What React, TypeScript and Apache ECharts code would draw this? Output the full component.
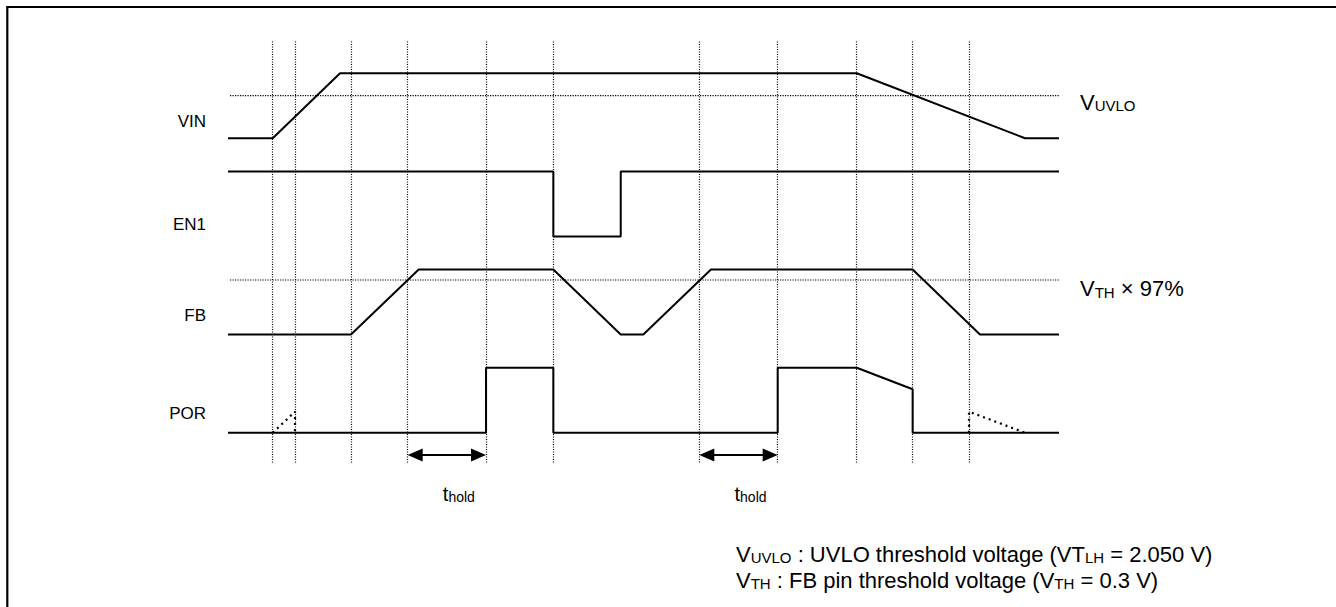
import React, { useEffect, useRef } from "react";
import * as echarts from "echarts";

// ---- time axis (arbitrary units 0..100) ----
const VIN_T = [0, 5.38, 13.48, 75.66, 95.91, 100];
const VIN_L = [0, 0, 1, 1, 0, 0];

const EN1_T = [0, 39.15, 39.15, 47.26, 47.26, 100];
const EN1_L = [1, 1, 0, 0, 1, 1];

const FB_T = [0, 14.8, 22.95, 39.15, 47.26, 49.98, 58.12, 82.39, 90.49, 100];
const FB_L = [0, 0, 1, 1, 0, 0, 1, 1, 0, 0];

const POR_T = [0, 31.05, 31.05, 39.15, 39.15, 66.15, 66.15, 75.66, 82.39, 82.39, 100];
const POR_L = [0, 0, 1, 1, 0, 0, 1, 1, 0.668, 0, 0];

// undefined (dotted) POR portions
const POR_DOT1_T = [5.38, 8.06, 8.06];
const POR_DOT1_L = [0, 0.323, 0];
const POR_DOT2_T = [89.17, 89.17, 95.91];
const POR_DOT2_L = [0, 0.323, 0];

// vertical level offsets of each row
const ROW_BASE = { VIN: 4.53, EN1: 3.02, FB: 1.51, POR: 0 };

// thresholds (relative to row)
const UVLO_LEVEL = 0.655;
const VTH97_LEVEL = 0.839;
const THRESH_T = [0.24, 100];

// vertical guide times
const GUIDE_T = [5.38, 8.06, 14.8, 21.62, 31.05, 39.15, 56.72, 66.15, 75.66, 82.39, 89.17];
const GUIDE_Y = [-0.46, 6.04];

// t_hold arrows
const HOLD = [
  [21.62, 31.05],
  [56.72, 66.15],
];
const HOLD_Y = -0.343;

const SIGNAL_NAMES = ["VIN", "EN1", "FB", "POR"];

const FONT = "'Liberation Sans', Arial, Helvetica, sans-serif";

function pts(ts: number[], ls: number[], base: number) {
  return ts.map((t, i) => [t, base + ls[i]]);
}

export default function App() {
  const ref = useRef<HTMLDivElement>(null);
  useEffect(() => {
    if (!ref.current) return;
    const chart = echarts.init(ref.current, null, { renderer: "svg" });
    const solid = { color: "#000", width: 2 };
    const dotted = { color: "#000", width: 1.2, type: [1.2, 1.3] };
    const lineBase = {
      type: "line",
      symbol: "none",
      silent: true,
      xAxisIndex: 0,
      yAxisIndex: 0,
      clip: false,
    };
    const pxPerT = (1059 - 228) / 100;
    const headLen = 15;
    const headOff = headLen / 2 / pxPerT;

    const labelY: Record<string, number> = { VIN: 121.5, EN1: 224, FB: 315.5, POR: 413.5 };

    const rich = (big: number, small: number) => ({
      a: { fontSize: big, fontFamily: FONT, verticalAlign: "bottom" },
      b: { fontSize: small, fontFamily: FONT, verticalAlign: "bottom" },
    });

    chart.setOption({
      animation: false,
      backgroundColor: "#fff",
      grid: { left: 228, right: 277, top: 36.2, bottom: 141.8, containLabel: false },
      xAxis: { type: "value", min: 0, max: 100, show: false },
      yAxis: { type: "value", min: -0.5, max: 6.1, show: false },
      series: [
        {
          ...lineBase,
          name: "guides",
          data: [],
          markLine: {
            silent: true,
            symbol: "none",
            label: { show: false },
            lineStyle: dotted,
            data: GUIDE_T.map((t) => [
              { coord: [t, GUIDE_Y[0]] },
              { coord: [t, GUIDE_Y[1]] },
            ]),
          },
        },
        {
          ...lineBase,
          name: "hold",
          data: [],
          markLine: {
            silent: true,
            symbol: ["triangle", "triangle"],
            symbolSize: [13, headLen],
            label: { show: false },
            lineStyle: { color: "#000", width: 2, type: "solid" },
            itemStyle: { color: "#000" },
            data: HOLD.map(([a, b]) => [
              { coord: [a + headOff, HOLD_Y] },
              { coord: [b - headOff, HOLD_Y] },
            ]),
          },
        },
        {
          ...lineBase,
          name: "UVLO",
          data: THRESH_T.map((t) => [t, ROW_BASE.VIN + UVLO_LEVEL]),
          lineStyle: dotted,
        },
        {
          ...lineBase,
          name: "VTH97",
          data: THRESH_T.map((t) => [t, ROW_BASE.FB + VTH97_LEVEL]),
          lineStyle: dotted,
        },
        { ...lineBase, name: "VIN", data: pts(VIN_T, VIN_L, ROW_BASE.VIN), lineStyle: solid },
        { ...lineBase, name: "EN1", data: pts(EN1_T, EN1_L, ROW_BASE.EN1), lineStyle: solid },
        { ...lineBase, name: "FB", data: pts(FB_T, FB_L, ROW_BASE.FB), lineStyle: solid },
        { ...lineBase, name: "POR", data: pts(POR_T, POR_L, ROW_BASE.POR), lineStyle: solid },
        {
          ...lineBase,
          name: "POR_u1",
          data: pts(POR_DOT1_T, POR_DOT1_L, ROW_BASE.POR),
          lineStyle: { color: "#000", width: 2.2, type: [2, 4] },
        },
        {
          ...lineBase,
          name: "POR_u2",
          data: pts(POR_DOT2_T, POR_DOT2_L, ROW_BASE.POR),
          lineStyle: { color: "#000", width: 2.2, type: [2, 4] },
        },
      ],
      graphic: [
        {
          type: "rect",
          silent: true,
          shape: { x: 7.3, y: 7, width: 1345, height: 615 },
          style: { fill: "none", stroke: "#000", lineWidth: 2.2 },
        },
        ...SIGNAL_NAMES.map((n) => ({
          type: "text",
          silent: true,
          x: 206,
          y: labelY[n],
          style: {
            text: n,
            fill: "#000",
            font: `17px ${FONT}`,
            align: "right",
            verticalAlign: "middle",
          },
        })),
        {
          type: "text",
          silent: true,
          x: 1080,
          y: 102,
          style: {
            text: "{a|V}{b|UVLO}",
            fill: "#000",
            font: `22px ${FONT}`,
            align: "left",
            verticalAlign: "middle",
            rich: rich(22, 15),
          },
        },
        {
          type: "text",
          silent: true,
          x: 1080,
          y: 288.5,
          style: {
            text: "{a|V}{b|TH}{a| × 97%}",
            fill: "#000",
            font: `22px ${FONT}`,
            align: "left",
            verticalAlign: "middle",
            rich: rich(22, 15),
          },
        },
        ...HOLD.map(([a, b]) => ({
          type: "text",
          silent: true,
          x: 228 + ((a + b) / 2) * pxPerT - 4,
          y: 494,
          style: {
            text: "{a|t}{b|hold}",
            fill: "#000",
            font: `20px ${FONT}`,
            align: "left",
            verticalAlign: "middle",
            rich: rich(20, 14),
          },
        })),
        {
          type: "text",
          silent: true,
          x: 736,
          y: 554,
          style: {
            text: "{a|V}{b|UVLO}{a| : UVLO threshold voltage (VT}{b|LH}{a| = 2.050 V)}",
            fill: "#000",
            font: `22px ${FONT}`,
            align: "left",
            verticalAlign: "middle",
            rich: rich(22, 15),
          },
        },
        {
          type: "text",
          silent: true,
          x: 736,
          y: 580,
          style: {
            text: "{a|V}{b|TH}{a| : FB pin threshold voltage (V}{b|TH}{a| = 0.3 V)}",
            fill: "#000",
            font: `22px ${FONT}`,
            align: "left",
            verticalAlign: "middle",
            rich: rich(22, 15),
          },
        },
      ],
    });
    return () => chart.dispose();
  }, []);
  return (
    <div
      ref={ref}
      style={{ position: "absolute", left: 0, top: 0, width: 1336, height: 607, background: "#fff" }}
    />
  );
}
